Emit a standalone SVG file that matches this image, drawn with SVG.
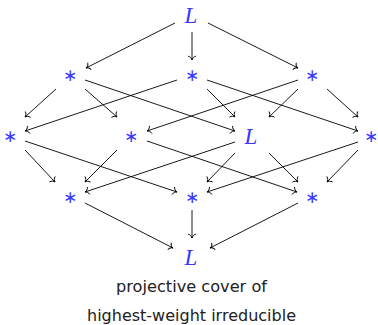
<svg xmlns="http://www.w3.org/2000/svg" width="378" height="325" viewBox="0 0 378 325">
<defs>
<marker id="to" markerUnits="userSpaceOnUse" markerWidth="12" markerHeight="12" viewBox="-6 -6 12 12" refX="0" refY="0" orient="auto">
<path d="M-3.8,-3.6 C-3.4,-1.5 -1.3,-0.3 0,0 C-1.3,0.3 -3.4,1.5 -3.8,3.6" fill="none" stroke="#000" stroke-width="0.9" stroke-linecap="round"/>
</marker>
<style>
.e line{stroke:#000;stroke-width:0.9;fill:none;marker-end:url(#to)}
.L{font-family:"Liberation Serif",serif;font-style:italic;font-size:23px;fill:#3838ff;text-anchor:middle}
.s{font-family:"DejaVu Sans",sans-serif;font-size:17px;fill:#3838ff;text-anchor:middle}
.cap{font-family:"DejaVu Sans",sans-serif;font-size:15.5px;fill:#222;text-anchor:middle}
</style>
</defs>
<g class="e" id="connectors">
<line x1="175" y1="23" x2="86" y2="68"/>
<line x1="192" y1="32" x2="192" y2="60"/>
<line x1="208" y1="23" x2="298" y2="68"/>
<line x1="56" y1="89" x2="25" y2="117"/>
<line x1="85" y1="89" x2="117" y2="117"/>
<line x1="85" y1="80" x2="235" y2="131"/>
<line x1="177" y1="80" x2="25" y2="131"/>
<line x1="207" y1="89" x2="235" y2="117"/>
<line x1="207" y1="80" x2="358" y2="131"/>
<line x1="298" y1="80" x2="147" y2="131"/>
<line x1="298" y1="89" x2="269" y2="117"/>
<line x1="327" y1="89" x2="358" y2="117"/>
<line x1="25" y1="150" x2="55" y2="182"/>
<line x1="25" y1="141" x2="177" y2="192"/>
<line x1="117" y1="150" x2="85" y2="182"/>
<line x1="147" y1="141" x2="297" y2="192"/>
<line x1="235" y1="142" x2="85" y2="192"/>
<line x1="235" y1="153" x2="207" y2="182"/>
<line x1="269" y1="153" x2="298" y2="182"/>
<line x1="358" y1="142" x2="207" y2="192"/>
<line x1="358" y1="150" x2="327" y2="182"/>
<line x1="85" y1="203" x2="173" y2="248"/>
<line x1="192" y1="210" x2="192" y2="238"/>
<line x1="298" y1="203" x2="210" y2="248"/>
</g>
<g id="top"><text class="L" x="191" y="23">L</text></g>
<g id="a1"><text class="s" x="70" y="81">∗</text></g>
<g id="a2"><text class="s" x="192" y="81">∗</text></g>
<g id="a3"><text class="s" x="312" y="81">∗</text></g>
<g id="b1"><text class="s" x="10" y="142">∗</text></g>
<g id="b2"><text class="s" x="131" y="142">∗</text></g>
<g id="bL"><text class="L" x="251" y="144">L</text></g>
<g id="b4"><text class="s" x="371" y="142">∗</text></g>
<g id="c1"><text class="s" x="70" y="203">∗</text></g>
<g id="c2"><text class="s" x="192" y="203">∗</text></g>
<g id="c3"><text class="s" x="312" y="203">∗</text></g>
<g id="bottom"><text class="L" x="191" y="265">L</text></g>
<g id="caption">
<text class="cap" x="191.5" y="292" textLength="151" lengthAdjust="spacingAndGlyphs">projective cover of</text>
<text class="cap" x="191.5" y="321" textLength="209" lengthAdjust="spacingAndGlyphs">highest-weight irreducible</text>
</g>
</svg>
